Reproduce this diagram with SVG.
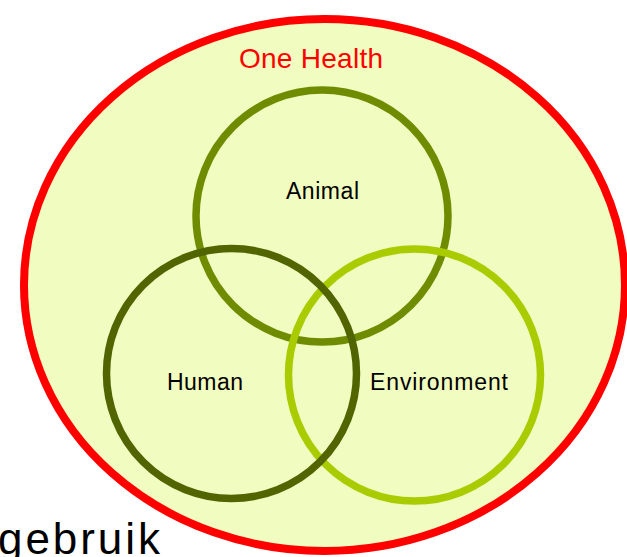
<svg xmlns="http://www.w3.org/2000/svg" width="627" height="557" viewBox="0 0 627 557">
<style>
.lbl{font-family:"Liberation Sans",Arial,sans-serif;fill:#000;}
.ring{fill:none;stroke-width:7.5;}
</style>
<rect width="627" height="557" fill="#fff"/>
<g id="one-health">
<ellipse cx="324.5" cy="285" rx="300.5" ry="266" fill="#f0fcc0" stroke="#ff0000" stroke-width="8"/>
<text x="239" y="68" class="lbl" style="fill:#ff0000" font-size="28" textLength="144">One Health</text>
</g>
<g id="animal">
<circle cx="322" cy="216" r="126" class="ring" stroke="#6f8c00"/>
<text x="286" y="199" class="lbl" font-size="23" textLength="73">Animal</text>
</g>
<g id="environment">
<circle cx="414.5" cy="375" r="126" class="ring" stroke="#a8cc00"/>
<text x="370" y="390" class="lbl" font-size="23" textLength="138">Environment</text>
</g>
<g id="human">
<circle cx="231.5" cy="373.5" r="125" class="ring" stroke="#506400"/>
<text x="167" y="390" class="lbl" font-size="23" textLength="76">Human</text>
</g>
<text x="-2" y="554" class="lbl" font-size="44" textLength="162">gebruik</text>
</svg>
